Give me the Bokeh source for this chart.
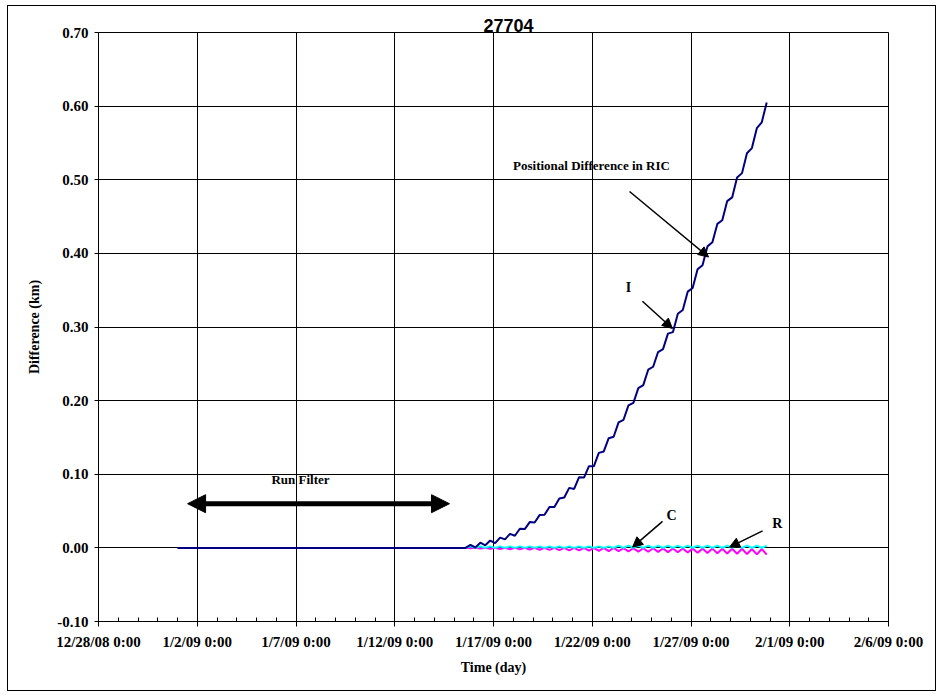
import pandas as pd
from bokeh.plotting import figure
from bokeh.models import (FixedTicker, NumeralTickFormatter, Label, Arrow,
                          NormalHead, Range1d, ColumnDataSource)
from bokeh.embed import file_html
from bokeh.resources import INLINE

# ---------------- data ----------------
title_text = "27704"
x_tick_dates = ["2008-12-28", "2009-01-02", "2009-01-07", "2009-01-12", "2009-01-17",
                "2009-01-22", "2009-01-27", "2009-02-01", "2009-02-06"]
x_tick_labels = ["12/28/08 0:00", "1/2/09 0:00", "1/7/09 0:00", "1/12/09 0:00", "1/17/09 0:00",
                 "1/22/09 0:00", "1/27/09 0:00", "2/1/09 0:00", "2/6/09 0:00"]
y_ticks = [-0.10, 0.00, 0.10, 0.20, 0.30, 0.40, 0.50, 0.60, 0.70]

flat_start = "2009-01-01 00:00"      # I is zero from here (filter run)
sample_start = "2009-01-15 14:00"    # prediction samples, every 6 h
sample_step = "6h"

i_values = [0.000, 0.004, 0.0005, 0.007, 0.0035, 0.010, 0.0065, 0.014, 0.0115, 0.019,
            0.0165, 0.026, 0.0255, 0.035, 0.0345, 0.0445, 0.045, 0.0555, 0.0555, 0.067,
            0.0685, 0.0815, 0.080, 0.096, 0.0955, 0.111, 0.111, 0.129, 0.131, 0.149,
            0.151, 0.1705, 0.174, 0.1935, 0.197, 0.217, 0.221, 0.242, 0.246, 0.266,
            0.270, 0.291, 0.293, 0.318, 0.323, 0.348, 0.353, 0.3785, 0.384, 0.4095,
            0.415, 0.440, 0.445, 0.471, 0.476, 0.503, 0.509, 0.536, 0.543, 0.570,
            0.578, 0.605]
c_values = [0.000, 0.002, 0.000, 0.002, 0.000, 0.002, 0.000, 0.002, 0.000, 0.002,
            0.000, 0.002, 0.000, 0.002, 0.000, 0.002, 0.000, 0.002, 0.000, 0.002,
            0.000, 0.002, 0.000, 0.002, 0.000, 0.002, 0.000, 0.002, 0.000, 0.002,
            0.000, 0.003, 0.000, 0.003, 0.000, 0.003, 0.000, 0.003, 0.000, 0.003,
            0.000, 0.003, 0.000, 0.003, 0.000, 0.003, 0.000, 0.003, 0.000, 0.003,
            0.000, 0.003, 0.000, 0.003, 0.000, 0.003, 0.000, 0.003, 0.000, 0.003,
            0.000, 0.003]
r_values = [0.000, -0.0005, 0.000, -0.001, 0.000, -0.0012, 0.000, -0.0015, 0.000, -0.0018,
            0.000, -0.002, 0.000, -0.0023, 0.000, -0.0025, 0.000, -0.0028, 0.000, -0.003,
            0.000, -0.0033, 0.000, -0.0035, 0.000, -0.0038, 0.000, -0.004, 0.000, -0.0043,
            0.000, -0.0045, -0.0005, -0.0048, -0.0005, -0.005, -0.0005, -0.0053, -0.0005, -0.0055,
            -0.0008, -0.0058, -0.0008, -0.006, -0.0008, -0.0063, -0.001, -0.0066, -0.001, -0.007,
            -0.001, -0.0073, -0.0012, -0.0077, -0.0012, -0.008, -0.0012, -0.0084, -0.0015, -0.0088,
            -0.0015, -0.0092]

# annotation anchors (time, km)
ann_texts = [
    ("Positional Difference in RIC", "2009-01-21 23:00", 0.519),
    ("I", "2009-01-23 20:10", 0.353),
    ("C", "2009-01-26 00:15", 0.044),
    ("R", "2009-01-31 09:00", 0.033),
    ("Run Filter", "2009-01-07 05:30", 0.093),
]
ann_arrows = [
    ("2009-01-23 21:20", 0.484, "2009-01-27 21:20", 0.395),
    ("2009-01-24 13:00", 0.335, "2009-01-26 01:25", 0.298),
    ("2009-01-25 13:25", 0.036, "2009-01-24 01:00", 0.001),
    ("2009-01-30 15:00", 0.023, "2009-01-28 22:50", 0.001),
]
filter_arrow = ("2009-01-01 12:15", "2009-01-14 18:30", 0.060)


def ms(s):
    return pd.Timestamp(s).value / 1e6


times = pd.date_range(sample_start, periods=len(i_values), freq=sample_step)
src_i = ColumnDataSource(dict(x=[pd.Timestamp(flat_start)] + list(times), y=[0.0] + i_values))
src_c = ColumnDataSource(dict(x=list(times), y=c_values))
src_r = ColumnDataSource(dict(x=list(times), y=r_values))

SERIF = "Liberation Serif"
SANS = "Liberation Sans"

p = figure(width=929, height=686, x_axis_type="datetime",
           x_range=Range1d(ms(x_tick_dates[0]), ms(x_tick_dates[-1])),
           y_range=Range1d(y_ticks[0], y_ticks[-1]),
           output_backend="svg", toolbar_location=None,
           min_border_left=90, min_border_right=49, min_border_top=26, min_border_bottom=71)
p.margin = (5, 0, 0, 7)
p.styles = {"border": "1px solid black"}
p.background_fill_color = "white"
p.border_fill_color = "white"
p.outline_line_color = "black"
p.outline_line_width = 1

p.title.text = title_text
p.title.align = "left"
p.title.offset = 385
p.title.standoff = 1
p.title.text_font = SANS
p.title.text_font_style = "bold"
p.title.text_font_size = "18px"
p.title.text_color = "black"

major_ms = [ms(d) for d in x_tick_dates]
minor_ms = [ms(d) for d in pd.date_range(x_tick_dates[0], x_tick_dates[-1], freq="1D")]
p.xaxis.ticker = FixedTicker(ticks=major_ms, minor_ticks=minor_ms)
p.xaxis.major_label_overrides = {int(m): lab for m, lab in zip(major_ms, x_tick_labels)}
p.yaxis.ticker = FixedTicker(ticks=y_ticks)
p.yaxis.formatter = NumeralTickFormatter(format="0.00")

for ax in (p.xaxis[0], p.yaxis[0]):
    ax.axis_line_color = "black"
    ax.axis_line_width = 1
    ax.major_tick_line_color = "black"
    ax.major_label_text_font = SERIF
    ax.major_label_text_font_style = "bold"
    ax.major_label_text_font_size = "15px"
    ax.major_label_text_color = "black"
    ax.axis_label_text_font = SERIF
    ax.axis_label_text_font_style = "bold"
    ax.axis_label_text_font_size = "14px"
    ax.axis_label_text_color = "black"

p.xaxis.major_tick_in = 0
p.xaxis.major_tick_out = 5
p.xaxis.minor_tick_in = 4
p.xaxis.minor_tick_out = 0
p.xaxis.minor_tick_line_color = "black"
p.xaxis.major_label_standoff = 7
p.xaxis.axis_label = "Time (day)"
p.xaxis.axis_label_standoff = 7

p.yaxis.major_tick_in = 0
p.yaxis.major_tick_out = 4
p.yaxis.minor_tick_line_color = None
p.yaxis.major_label_standoff = 6
p.yaxis.axis_label = "Difference (km)"
p.yaxis.axis_label_standoff = 12

for g in (p.xgrid[0], p.ygrid[0]):
    g.grid_line_color = "black"
    g.grid_line_width = 1
    g.grid_line_alpha = 1.0

p.line("x", "y", source=src_r, line_color="#FF00FF", line_width=2)
p.line("x", "y", source=src_c, line_color="#00FFFF", line_width=2)
p.line("x", "y", source=src_i, line_color="#000080", line_width=2)

for txt, tx, ty in ann_texts:
    size = "13px" if len(txt) > 1 else "14px"
    p.add_layout(Label(x=ms(tx), y=ty, text=txt, text_align="center", text_baseline="middle",
                       text_font=SERIF, text_font_style="bold", text_font_size=size,
                       text_color="black"))

for xs, ys, xe, ye in ann_arrows:
    p.add_layout(Arrow(x_start=ms(xs), y_start=ys, x_end=ms(xe), y_end=ye,
                       line_color="black", line_width=1.5,
                       end=NormalHead(size=10, fill_color="black", line_color="black", line_width=1)))

fx0, fx1, fy = filter_arrow
p.add_layout(Arrow(x_start=ms(fx0), y_start=fy, x_end=ms(fx1), y_end=fy,
                   line_color="black", line_width=5,
                   start=NormalHead(size=18, fill_color="black", line_color="black", line_width=1),
                   end=NormalHead(size=18, fill_color="black", line_color="black", line_width=1)))

open("out.html", "w").write(file_html(p, INLINE))
